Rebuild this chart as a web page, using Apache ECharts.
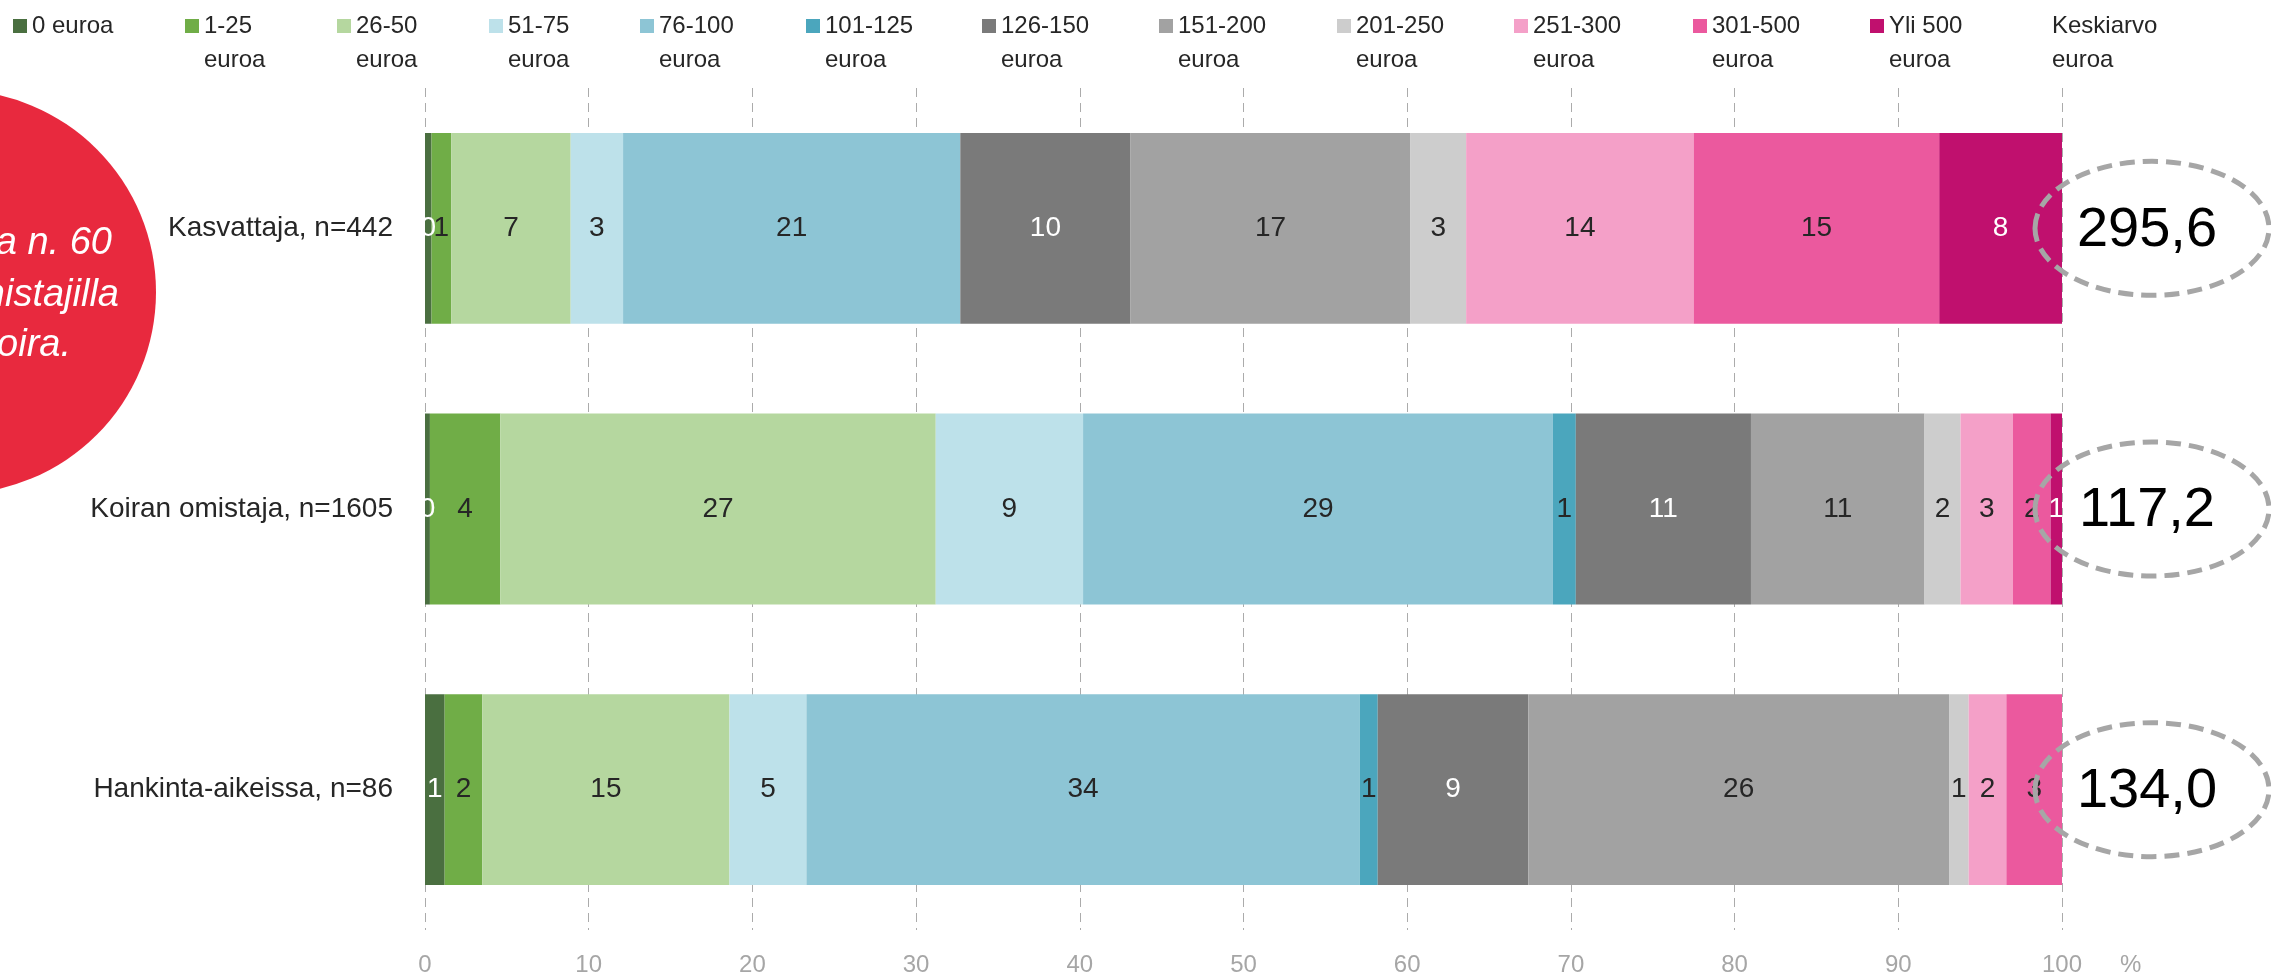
<!DOCTYPE html>
<html>
<head>
<meta charset="utf-8">
<script src="https://cdn.jsdelivr.net/npm/echarts@6/dist/echarts.min.js"></script>
<style>html,body{margin:0;padding:0;background:#fff;}#chart{width:2271px;height:980px;}</style>
</head>
<body>
<div id="chart"></div>
<script>
// ---- data ----
const categories = ['Kasvattaja, n=442', 'Koiran omistaja, n=1605', 'Hankinta-aikeissa, n=86'];
const seriesNames = ['0 euroa', '1-25 euroa', '26-50 euroa', '51-75 euroa', '76-100 euroa', '101-125 euroa',
  '126-150 euroa', '151-200 euroa', '201-250 euroa', '251-300 euroa', '301-500 euroa', 'Yli 500 euroa'];
const eur0       = [0.4, 0.3, 1.2];
const eur1_25    = [1.2, 4.3, 2.3];
const eur26_50   = [7.3, 26.6, 15.1];
const eur51_75   = [3.2, 9.0, 4.7];
const eur76_100  = [20.6, 28.7, 33.8];
const eur101_125 = [0, 1.4, 1.1];
const eur126_150 = [10.4, 10.7, 9.2];
const eur151_200 = [17.1, 10.6, 25.7];
const eur201_250 = [3.4, 2.2, 1.2];
const eur251_300 = [13.9, 3.2, 2.3];
const eur301_500 = [15.0, 2.3, 3.4];
const eurYli500  = [7.5, 0.7, 0];
const meanName = 'Keskiarvo euroa';
const means = [295.6, 117.2, 134.0];
const calloutLines = ['Kasvattajilla koiria kotona n. 60', 'ja koiran omistajilla', 'yleensä yksi koira.'];

// ---- styles ----
const seriesValues = [eur0, eur1_25, eur26_50, eur51_75, eur76_100, eur101_125,
  eur126_150, eur151_200, eur201_250, eur251_300, eur301_500, eurYli500];
const colors = ['#4a6f40', '#70ad47', '#b5d79f', '#bde1ea', '#8dc5d5', '#4ba6bd',
  '#7a7a7a', '#a2a2a2', '#cdcdcd', '#f4a0c8', '#eb599e', '#c0106e'];
const labelColors = ['#ffffff', '#262626', '#262626', '#262626', '#262626', '#262626',
  '#ffffff', '#262626', '#262626', '#262626', '#262626', '#ffffff'];
const legendLeft = [13, 185, 337, 489, 640, 806, 982, 1159, 1337, 1514, 1693, 1870];
const FONT = '"Liberation Sans", Arial, sans-serif';
const legendCY = 26, legendLH = 34;

const chart = echarts.init(document.getElementById('chart'));

const legends = seriesNames.map((n, i) => {
  const twoLine = n !== '0 euroa';
  return {
    data: [n],
    left: legendLeft[i],
    top: twoLine ? legendCY - 1.5 * legendLH : legendCY - legendLH / 2,
    padding: 0,
    itemWidth: 14, itemHeight: 14, itemGap: 0,
    icon: 'rect',
    selectedMode: false,
    formatter: name => twoLine ? ' \n' + name.replace(/ euroa$/, '\neuroa') : name,
    textStyle: { fontFamily: FONT, fontSize: 24, color: '#262626', lineHeight: legendLH }
  };
});
legends.push({
  data: [{ name: meanName, itemStyle: { color: 'rgba(0,0,0,0)', borderWidth: 0 } }],
  left: 2033,
  top: legendCY - 1.5 * legendLH,
  padding: 0,
  itemWidth: 14, itemHeight: 14,
  icon: 'rect',
  selectedMode: false,
  formatter: name => ' \n' + name.replace(' ', '\n'),
  textStyle: { fontFamily: FONT, fontSize: 24, color: '#262626', lineHeight: legendLH }
});

const barSeries = seriesNames.map((n, i) => ({
  name: n,
  type: 'bar',
  stack: 'total',
  barWidth: '68%',
  itemStyle: { color: colors[i] },
  label: {
    show: true,
    position: 'inside',
    fontFamily: FONT,
    fontSize: 28,
    color: labelColors[i],
    formatter: p => p.value === 0 ? '' : String(Math.round(p.value))
  },
  emphasis: { disabled: true },
  data: seriesValues[i]
}));

const meanSeries = {
  name: meanName,
  type: 'custom',
  coordinateSystem: 'cartesian2d',
  encode: { y: 0, x: 1 },
  itemStyle: { color: 'rgba(0,0,0,0)' },
  data: means.map((m, i) => [i, m]),
  renderItem: function (params, api) {
    const cy = api.coord([0, api.value(0)])[1];
    const cs = params.coordSys;
    const cx = cs.x + cs.width + 90;
    const txt = api.value(1).toFixed(1).replace('.', ',');
    return {
      type: 'group',
      children: [
        { type: 'ellipse', shape: { cx: cx, cy: cy, rx: 117, ry: 67 },
          style: { fill: 'none', stroke: '#a6a6a6', lineWidth: 5, lineDash: [15, 8] } },
        { type: 'text',
          style: { text: txt, x: cx - 5, y: cy + 2, align: 'center', verticalAlign: 'middle',
            textAlign: 'center', textVerticalAlign: 'middle',
            font: '56px "Liberation Sans", Arial, sans-serif', fill: '#000000' } }
      ]
    };
  },
  z: 5
};

const calloutEnds = [112, 119, 71];
const calloutY = [243, 295, 345];

chart.setOption({
  animation: false,
  backgroundColor: '#ffffff',
  textStyle: { fontFamily: FONT },
  legend: legends,
  grid: { left: 425, right: 209, top: 88, bottom: 50 },
  xAxis: {
    type: 'value', min: 0, max: 100, interval: 10,
    axisLine: { show: false }, axisTick: { show: false },
    splitLine: { show: true, lineStyle: { color: '#ababab', width: 1, type: [9, 6] } },
    axisLabel: { color: '#a6a6a6', fontSize: 24, fontFamily: FONT, margin: 23 },
    name: '%', nameLocation: 'end', nameGap: 58,
    nameTextStyle: { color: '#a6a6a6', fontSize: 24, fontFamily: FONT, verticalAlign: 'top', padding: [23, 0, 0, 0] }
  },
  yAxis: {
    type: 'category', inverse: true, data: categories,
    axisLine: { show: false }, axisTick: { show: false },
    axisLabel: { color: '#262626', fontSize: 28, fontFamily: FONT, margin: 32 }
  },
  series: barSeries.concat([meanSeries]),
  graphic: [
    { type: 'circle', shape: { cx: -46, cy: 292, r: 202 }, style: { fill: '#e8293e' }, z: 0 }
  ].concat(calloutLines.map((t, i) => ({
    type: 'text', x: calloutEnds[i], y: calloutY[i], z: 1,
    style: { text: t, align: 'right', verticalAlign: 'middle', textAlign: 'right', textVerticalAlign: 'middle',
      font: 'italic 38px "Liberation Sans", Arial, sans-serif', fill: '#ffffff' }
  })))
});
</script>
</body>
</html>
